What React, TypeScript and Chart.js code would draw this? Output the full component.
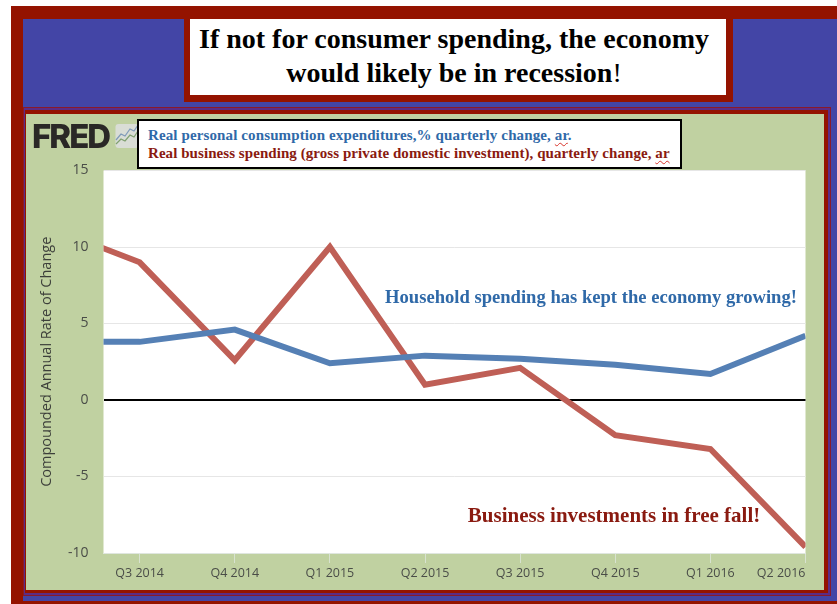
import React, { useEffect, useRef } from "react";
import { Chart, registerables } from "chart.js";

Chart.register(...registerables);

const quarters = ["Q2 2014", "Q3 2014", "Q4 2014", "Q1 2015", "Q2 2015", "Q3 2015", "Q4 2015", "Q1 2016", "Q2 2016"];
const consumption = [3.8, 3.8, 4.6, 2.4, 2.9, 2.7, 2.3, 1.7, 4.2];
const investment = [11.4, 9.0, 2.6, 10.0, 1.0, 2.1, -2.3, -3.2, -9.6];
const yTicks = [-10, -5, 0, 5, 10, 15];

const SERIF = '"Liberation Serif", serif';
const SANS = '"Open Sans", sans-serif';
const RED = "#941300";
const BLUE = "#4345a6";
const GREEN = "#c0d1a1";

type BoxProps = { x: number; y: number; r: number; b: number; color: string };
const Box = ({ x, y, r, b, color }: BoxProps) => (
  <div style={{ position: "absolute", left: x, top: y, width: r - x, height: b - y, background: color }} />
);

// Free-standing callouts placed on the plot in axis units.
const callouts = {
  id: "callouts",
  afterDatasetsDraw(chart: any) {
    const { ctx, scales } = chart;
    const notes = [
      { text: "Household spending has kept the economy growing!", x: 3.58, y: 6.65, size: 18.6, color: "#2f69a8" },
      { text: "Business investments in free fall!", x: 4.45, y: -7.62, size: 21, color: "#8a1a10" },
    ];
    ctx.save();
    ctx.textAlign = "left";
    ctx.textBaseline = "middle";
    for (const n of notes) {
      ctx.font = `bold ${n.size}px ${SERIF}`;
      ctx.fillStyle = n.color;
      ctx.fillText(n.text, scales.x.getPixelForValue(n.x), scales.y.getPixelForValue(n.y));
    }
    ctx.restore();
  },
};

// White plot surface, and the final quarter label kept inside the plot's right edge.
const plotSurface = {
  id: "plotSurface",
  beforeDraw(chart: any) {
    const { ctx, chartArea: a } = chart;
    ctx.save();
    ctx.fillStyle = "#ffffff";
    ctx.fillRect(a.left, a.top, a.right - a.left, a.bottom - a.top);
    ctx.restore();
    const items = chart.scales.x.getLabelItems(a);
    if (items.length) items[items.length - 1].options.textAlign = "right";
  },
};

export default function App() {
  const canvasRef = useRef<HTMLCanvasElement>(null);

  useEffect(() => {
    const chart = new Chart(canvasRef.current!, {
      type: "line",
      data: {
        datasets: [
          {
            label: "Real personal consumption expenditures",
            data: consumption.map((y, x) => ({ x, y })),
            borderColor: "#5580b5",
            borderWidth: 6,
            pointRadius: 0,
            tension: 0,
            clip: 0,
          },
          {
            label: "Real business spending",
            data: investment.map((y, x) => ({ x, y })),
            borderColor: "#bf5f56",
            borderWidth: 6,
            pointRadius: 0,
            tension: 0,
            clip: 0,
          },
        ],
      },
      options: {
        animation: false,
        responsive: false,
        layout: { padding: { top: 170.5, right: 31.5, bottom: 0, left: 0 } },
        plugins: { legend: { display: false }, tooltip: { enabled: false } },
        scales: {
          x: {
            type: "linear",
            min: 0.62,
            max: 8,
            afterBuildTicks: (s: any) => {
              s.ticks = quarters.slice(1).map((_, i) => ({ value: i + 1 }));
            },
            afterFit: (s: any) => {
              s.height = 51;
            },
            border: { color: "#dfe6df", width: 1 },
            grid: { drawOnChartArea: false, drawTicks: true, tickLength: 10, tickColor: "#d8e2d0" },
            ticks: {
              autoSkip: false,
              maxRotation: 0,
              padding: 3,
              color: "#4a4d48",
              font: { family: SANS, size: 12.5 },
              callback: (v: any) => quarters[Number(v)],
            },
          },
          y: {
            type: "linear",
            min: -10,
            max: 15,
            afterBuildTicks: (s: any) => {
              s.ticks = yTicks.map((value) => ({ value }));
            },
            afterFit: (s: any) => {
              s.width = 103.5;
            },
            border: { display: false },
            grid: {
              drawTicks: false,
              color: (c: any) => (c.tick?.value === 0 ? "#000000" : "#e6e6e6"),
              lineWidth: (c: any) => (c.tick?.value === 0 ? 2 : 1),
            },
            ticks: { padding: 15, color: "#4a4d48", font: { family: SANS, size: 14 } },
            title: {
              display: true,
              text: "Compounded Annual Rate of Change",
              color: "#3c3f3a",
              font: { family: SANS, size: 14.5 },
              padding: { top: 38, bottom: 0 },
            },
          },
        },
      },
      plugins: [plotSurface, callouts],
    } as any);
    return () => chart.destroy();
  }, []);

  const squiggle: React.CSSProperties = {
    textDecoration: "underline wavy #d8342a 1px",
    textUnderlineOffset: 2,
  };

  return (
    <div style={{ position: "fixed", left: 0, top: 0, width: 837, height: 604, background: "#fff", overflow: "hidden" }}>
      {/* Nested frame */}
      <Box x={11} y={6} r={837} b={604} color={RED} />
      <Box x={23} y={19} r={837} b={601} color={BLUE} />
      <Box x={23} y={107} r={831} b={596} color="#8a1a2a" />
      <Box x={24} y={108} r={830} b={595} color="#5b2c86" />
      <Box x={25} y={110} r={828} b={593} color={RED} />
      <Box x={26} y={114} r={824} b={590} color={GREEN} />

      {/* Headline */}
      <Box x={184} y={19} r={733} b={102} color={RED} />
      <div
        style={{
          position: "absolute",
          left: 190,
          top: 19,
          width: 536,
          height: 76,
          background: "#fff",
          color: "#000",
          font: `bold 28px/34px ${SERIF}`,
          textAlign: "center",
          padding: "3px 8px 0 0",
          boxSizing: "border-box",
        }}
      >
        If not for consumer spending, the economy
        <br />
        would likely be in recession<span style={{ fontWeight: 400 }}>!</span>
      </div>

      <canvas ref={canvasRef} width={837} height={604} style={{ position: "absolute", left: 0, top: 0 }} />

      {/* FRED mark */}
      <div
        style={{
          position: "absolute",
          left: 32,
          top: 113,
          font: `800 33px/46px Inter, sans-serif`,
          letterSpacing: -2,
          color: "#2a2826",
        }}
      >
        FRED
      </div>
      <svg style={{ position: "absolute", left: 115, top: 123 }} width={24} height={26} viewBox="0 0 24 26">
        <rect x={0.5} y={1} width={23} height={24} rx={3} fill="#d9ddd6" />
        <polyline points="1,17 6,11 10,13 15,6 19,8 23,2" fill="none" stroke="#7f9ab8" strokeWidth={1.2} />
        <polyline points="1,21 6,16 10,18 15,12 19,14 23,8" fill="none" stroke="#7fa070" strokeWidth={1.2} />
      </svg>

      {/* Series key */}
      <div
        style={{
          position: "absolute",
          left: 137,
          top: 119,
          width: 545,
          height: 50,
          boxSizing: "border-box",
          border: "2px solid #000",
          background: "#fff",
          padding: "5px 0 0 9px",
          font: `bold 15px/18px ${SERIF}`,
          whiteSpace: "nowrap",
        }}
      >
        <div style={{ color: "#2f69a8", letterSpacing: 0.12 }}>
          Real personal consumption expenditures,% quarterly change, <span style={squiggle}>ar</span>.
        </div>
        <div style={{ color: "#8a1a10", letterSpacing: 0.06 }}>
          Real business spending (gross private domestic investment), quarterly change, <span style={squiggle}>ar</span>
        </div>
      </div>
    </div>
  );
}
